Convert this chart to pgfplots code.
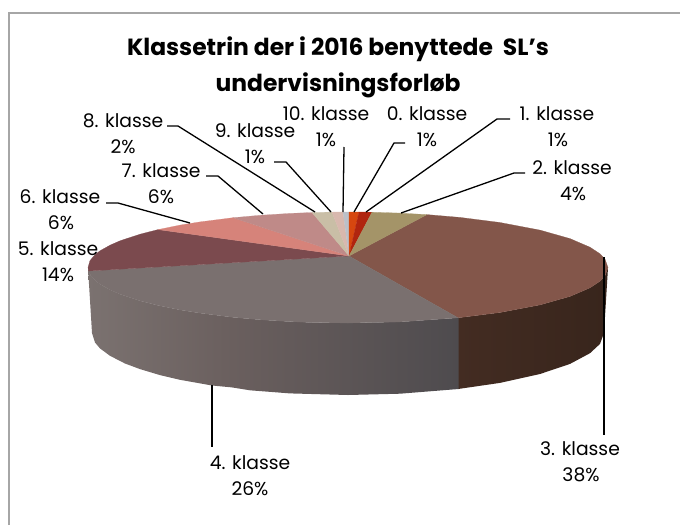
\documentclass[border=0pt]{standalone}
\usepackage{fontspec}
\setmainfont{Poppins}
\usepackage{pgfplots}
\pgfplotsset{compat=1.18}
\definecolor{frameg}{HTML}{A6A6A6}
\definecolor{sideA}{HTML}{7B7270}
\definecolor{sideB}{HTML}{6A5F5E}
\definecolor{sideC}{HTML}{4E4B4E}
\definecolor{sideD}{HTML}{432C22}
\definecolor{sideE}{HTML}{38251C}
\definecolor{kl0}{HTML}{D6470F}
\definecolor{kl1}{HTML}{B0250F}
\definecolor{kl2}{HTML}{A49468}
\definecolor{kl3}{HTML}{83564A}
\definecolor{kl4}{HTML}{7A706F}
\definecolor{kl5}{HTML}{7B4A4E}
\definecolor{kl6}{HTML}{D6837A}
\definecolor{kl7}{HTML}{BF8A88}
\definecolor{kl8}{HTML}{C9BEA6}
\definecolor{kl9}{HTML}{D8B8AE}
\definecolor{kl10}{HTML}{BCC0C8}
\newcommand{\lab}[5]{%
  \node[anchor=base, inner sep=0pt, font=\fontsize{18.8}{22}\selectfont] at (axis cs:#1,#2) {#4};
  \node[anchor=base, inner sep=0pt, font=\fontsize{18.8}{22}\selectfont] at (axis cs:#3,#2+26) {#5};
}
\begin{document}
\begin{tikzpicture}
\begin{axis}[
    width=680bp, height=525bp, scale only axis,
    xmin=0, xmax=680, ymin=0, ymax=525, y dir=reverse,
    hide axis,
    lead/.style={black, line width=1.3pt, no marks},
]
% keeps the page at the full picture size
\path (axis cs:0,0) rectangle (axis cs:680,525);
% frame, cut off on the right and at the bottom
\addplot[frameg, line width=1.5pt, no marks] coordinates {(9,525) (9,13) (680,13)};

% side wall, 3. klasse
\addplot[draw=none, left color=sideD, right color=sideE, no marks] coordinates {
 (458,317.8)(500,312.5)(540,304.9)(570,296.4)(590,287.8)(600,281.2)(605,275.9)(608,267.5)
 (604,333)(600,343.9)(590,353.2)(570,363.9)(540,374)(500,382.9)(458,389)(458,317.8)};
% side wall, 4. klasse
\addplot[draw=none, left color=sideA, right color=sideB, no marks] coordinates {
 (88,267.5)(90,274.4)(95,280.3)(100,284.2)(110,289.8)(120,294.2)(140,300.8)(158,305.4)(180,309.9)(200,313.1)(233,317.3)
 (233,387.5)(212,385.5)(180,379.8)(160,375.1)(140,369.1)(125,363.5)
 (110,355.8)(100,348.4)(95,342.5)(92,333)(88,267.5)};
\addplot[draw=none, left color=sideB, right color=sideC, no marks] coordinates {
 (232.5,317.3)(260,319.7)(290,321.6)(312,322.5)(348,323)(400,321.9)(458.5,317.8)
 (458.5,389)(400,393.7)(348,395)(290,393.4)(250,390.3)(232.5,387.5)(232.5,317.3)};

% top face
\addplot[fill=kl3, draw=kl3, line width=0.2pt, no marks] coordinates {(349,256)(427,214.6)(460,217.4)(500,222.5)(540,230.1)(570,238.6)(590,247.2)(600,253.8)(605,259.1)(608,267.5)(605,275.9)(600,281.2)(590,287.8)(570,296.4)(540,304.9)(500,312.5)(458,317.8)(349,256)};
\addplot[fill=kl4, draw=kl4, line width=0.2pt, no marks] coordinates {(349,256)(458,317.8)(400,321.9)(348,323)(312,322.5)(290,321.6)(260,319.7)(233,317.3)(200,313.1)(180,309.9)(158,305.4)(140,300.8)(120,294.2)(110,289.8)(100,284.2)(95,280.3)(90,274.4)(88.5,271)(349,256)};
\addplot[fill=kl5, draw=kl5, line width=0.2pt, no marks] coordinates {(349,256)(88.5,271)(88,267.5)(90,260.6)(95,254.7)(100,250.8)(110,245.2)(120,240.8)(140,234.2)(158,229.6)(349,256)};
\addplot[fill=kl6, draw=kl6, line width=0.2pt, no marks] coordinates {(349,256)(158,229.6)(180,225.1)(200,221.9)(233,217.7)(349,256)};
\addplot[fill=kl7, draw=kl7, line width=0.2pt, no marks] coordinates {(349,256)(233,217.7)(260,215.3)(290,213.4)(312,212.5)(349,256)};
\addplot[fill=kl8, draw=kl8, line width=0.2pt, no marks] coordinates {(349,256)(312,212.5)(332,212.1)(349,256)};
\addplot[fill=kl9, draw=kl9, line width=0.2pt, no marks] coordinates {(349,256)(332,212.1)(343,212)(349,256)};
\addplot[fill=kl10, draw=kl10, line width=0.2pt, no marks] coordinates {(349,256)(343,212)(349,212)(349,256)};
\addplot[fill=kl0, draw=kl0, line width=0.2pt, no marks] coordinates {(349,256)(349,212)(359,212)(349,256)};
\addplot[fill=kl1, draw=kl1, line width=0.2pt, no marks] coordinates {(349,256)(359,212)(372,212.2)(349,256)};
\addplot[fill=kl2, draw=kl2, line width=0.2pt, no marks] coordinates {(349,256)(372,212.2)(400,213.1)(427,214.6)(349,256)};

% leader lines
\addplot[lead] coordinates {(405,143)(394,143)(354,212)};
\addplot[lead] coordinates {(510,119)(497,119)(366,212)};
\addplot[lead] coordinates {(525,173)(514,173)(401,213)};
\addplot[lead] coordinates {(604,257)(604,435)};
\addplot[lead] coordinates {(212,385)(212,447)};
\addplot[lead] coordinates {(106,203)(118,203)(190,223)};
\addplot[lead] coordinates {(206,176)(218,176)(263,214)};
\addplot[lead] coordinates {(167,126)(178,126)(315,212)};
\addplot[lead] coordinates {(274,162)(286,162)(331,212)};
\addplot[lead] coordinates {(344,147)(343,212)};

% title
\node[anchor=base, inner sep=0pt, font=\fontsize{23.5}{28}\bfseries\selectfont] at (axis cs:338,56) {Klassetrin der i 2016 benyttede\ \ SL's};
\node[anchor=base, inner sep=0pt, font=\fontsize{23.5}{28}\bfseries\selectfont] at (axis cs:338,91) {undervisningsforløb};

% data labels: centre of line 1, baseline, centre of line 2
\lab{427}{120}{427}{0. klasse}{1\%}
\lab{326}{120}{326}{10. klasse}{1\%}
\lab{557}{120}{558}{1. klasse}{1\%}
\lab{572}{174}{573}{2. klasse}{4\%}
\lab{580}{455}{581}{3. klasse}{38\%}
\lab{250}{469}{250}{4. klasse}{26\%}
\lab{58}{255}{58}{5. klasse}{14\%}
\lab{60}{203}{61}{6. klasse}{6\%}
\lab{161}{177}{161}{7. klasse}{6\%}
\lab{123}{127}{123}{8. klasse}{2\%}
\lab{255}{137}{255}{9. klasse}{1\%}
\end{axis}
\end{tikzpicture}
\end{document}
